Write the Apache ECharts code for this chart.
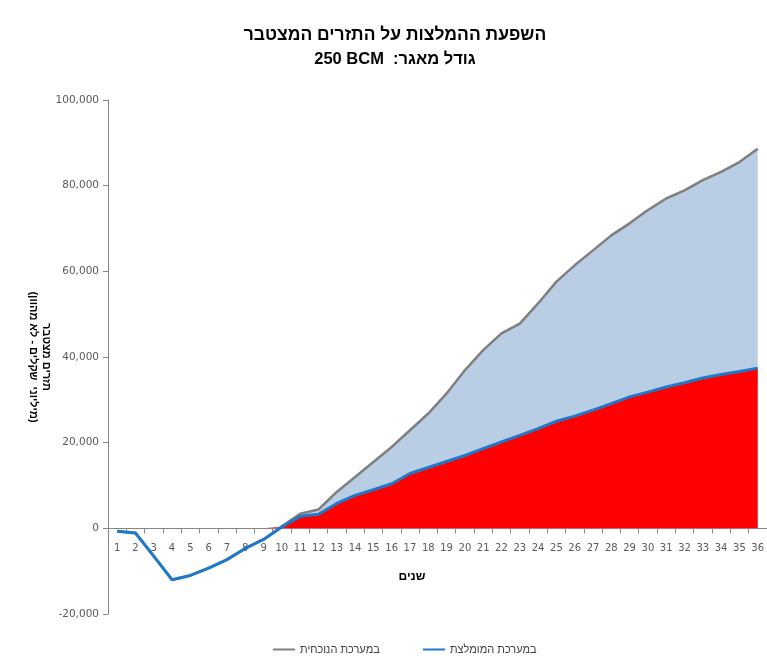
<!DOCTYPE html>
<html>
<head>
<meta charset="utf-8">
<script src="https://cdn.jsdelivr.net/npm/echarts@6/dist/echarts.min.js"></script>
<style>html,body{margin:0;padding:0;background:#fff}#c{width:767px;height:656px}</style>
</head>
<body>
<div id="c"></div>
<script>
// ---- data ----
var years = ['1','2','3','4','5','6','7','8','9','10','11','12','13','14','15','16','17','18','19','20','21','22','23','24','25','26','27','28','29','30','31','32','33','34','35','36'];
// current system (gray)
var currentSystem = [-700,-1100,-6500,-12000,-11000,-9300,-7300,-4700,-2600,500,3400,4400,8500,12000,15500,19000,22900,26800,31500,36900,41600,45500,47800,52500,57600,61400,64900,68400,71200,74300,77000,78900,81300,83200,85500,88600];
// recommended system (blue)
var recommendedSystem = [-700,-1100,-6500,-12000,-11000,-9300,-7300,-4700,-2600,300,2800,3300,5800,7700,9000,10400,12800,14200,15600,17000,18600,20200,21700,23300,25000,26200,27600,29100,30700,31800,33000,34000,35100,35900,36600,37400];
var yTicks = [-20000, 0, 20000, 40000, 60000, 80000, 100000];

var nameCurrent = 'במערכת הנוכחית';
var nameRecommended = 'במערכת המומלצת';
var RLE = '\u202B', LRE = '\u202A', PDF = '\u202C';
function rtl(s) { return RLE + s + PDF; }

var clampCur = currentSystem.map(function(v){ return Math.max(0, v); });
var clampRec = recommendedSystem.map(function(v){ return Math.max(0, v); });

var font = "'Liberation Sans', Arial, sans-serif";
var axisFont = "'DejaVu Sans', Verdana, sans-serif";
var gridTop = 100, gridHeight = 514;
var yMin = yTicks[0], yMax = yTicks[yTicks.length - 1];
// move the category axis up to the zero line
var zeroOffset = -gridHeight * (0 - yMin) / (yMax - yMin);

var chart = echarts.init(document.getElementById('c'));
chart.setOption({
  animation: false,
  backgroundColor: '#ffffff',
  title: [
    { text: rtl('השפעת ההמלצות על התזרים המצטבר'), left: 390, top: 21, textAlign: 'center',
      textStyle: { fontFamily: font, fontSize: 17.5, fontWeight: 'bold', color: '#000' } },
    { text: rtl('גודל מאגר:  ' + LRE + '250 BCM' + PDF), left: 390, top: 46, textAlign: 'center',
      textStyle: { fontFamily: font, fontSize: 16.5, fontWeight: 'bold', color: '#000' } }
  ],
  legend: [
    { data: [{ name: nameCurrent, icon: 'rect' }], left: 268, top: 639, itemWidth: 22, itemHeight: 2, itemGap: 0,
      formatter: function(n){ return rtl(n); },
      textStyle: { fontFamily: font, fontSize: 11, color: '#404040' } },
    { data: [{ name: nameRecommended, icon: 'rect' }], left: 418, top: 639, itemWidth: 22, itemHeight: 2, itemGap: 0,
      formatter: function(n){ return rtl(n); },
      textStyle: { fontFamily: font, fontSize: 11, color: '#404040' } }
  ],
  grid: { left: 108, top: gridTop, width: 663.5, height: gridHeight, containLabel: false },
  xAxis: {
    type: 'category', data: years, boundaryGap: true,
    offset: zeroOffset,
    axisLine: { onZero: false, lineStyle: { color: '#868686', width: 1 } },
    axisTick: { show: true, length: 5, alignWithLabel: false, lineStyle: { color: '#868686' } },
    axisLabel: { interval: 0, margin: 15, fontFamily: axisFont, fontSize: 10, color: '#595959' },
    splitLine: { show: false }
  },
  yAxis: {
    type: 'value', min: yMin, max: yMax, interval: 20000,
    axisLine: { show: true, lineStyle: { color: '#868686' } },
    axisTick: { show: true, length: 5, lineStyle: { color: '#868686' } },
    axisLabel: { margin: 9, fontFamily: axisFont, fontSize: 10.5, color: '#595959',
      formatter: function(v){ return echarts.format.addCommas(v); } },
    splitLine: { show: false }
  },
  graphic: [
    { type: 'text', x: 46, y: 357, rotation: -Math.PI / 2,
      style: { text: rtl('תזרים מצטבר'), font: 'bold 11px ' + font, fill: '#000', align: 'center', verticalAlign: 'middle' } },
    { type: 'text', x: 33, y: 357, rotation: -Math.PI / 2,
      style: { text: rtl('(מיליוני  שקלים - לא מהוון)'), font: 'bold 11px ' + font, fill: '#000', align: 'center', verticalAlign: 'middle' } },
    { type: 'text', x: 412, y: 577,
      style: { text: rtl('שנים'), font: 'bold 12px ' + font, fill: '#000', align: 'center', verticalAlign: 'middle' } }
  ],
  series: [
    { name: 'area-current', type: 'line', data: clampCur, symbol: 'none', lineStyle: { width: 0 },
      areaStyle: { color: '#B9CDE5', opacity: 1 }, silent: true, z: 1 },
    { name: 'area-recommended', type: 'line', data: clampRec, symbol: 'none', lineStyle: { width: 0 },
      areaStyle: { color: '#FF0000', opacity: 1 }, silent: true, z: 2 },
    { name: nameCurrent, type: 'line', data: currentSystem, symbol: 'none',
      lineStyle: { color: '#7F7F7F', width: 2.5 }, itemStyle: { color: '#7F7F7F' }, z: 3 },
    { name: nameRecommended, type: 'line', data: recommendedSystem, symbol: 'none',
      lineStyle: { color: '#1F78C8', width: 3 }, itemStyle: { color: '#1F78C8' }, z: 4 }
  ]
});
</script>
</body>
</html>
